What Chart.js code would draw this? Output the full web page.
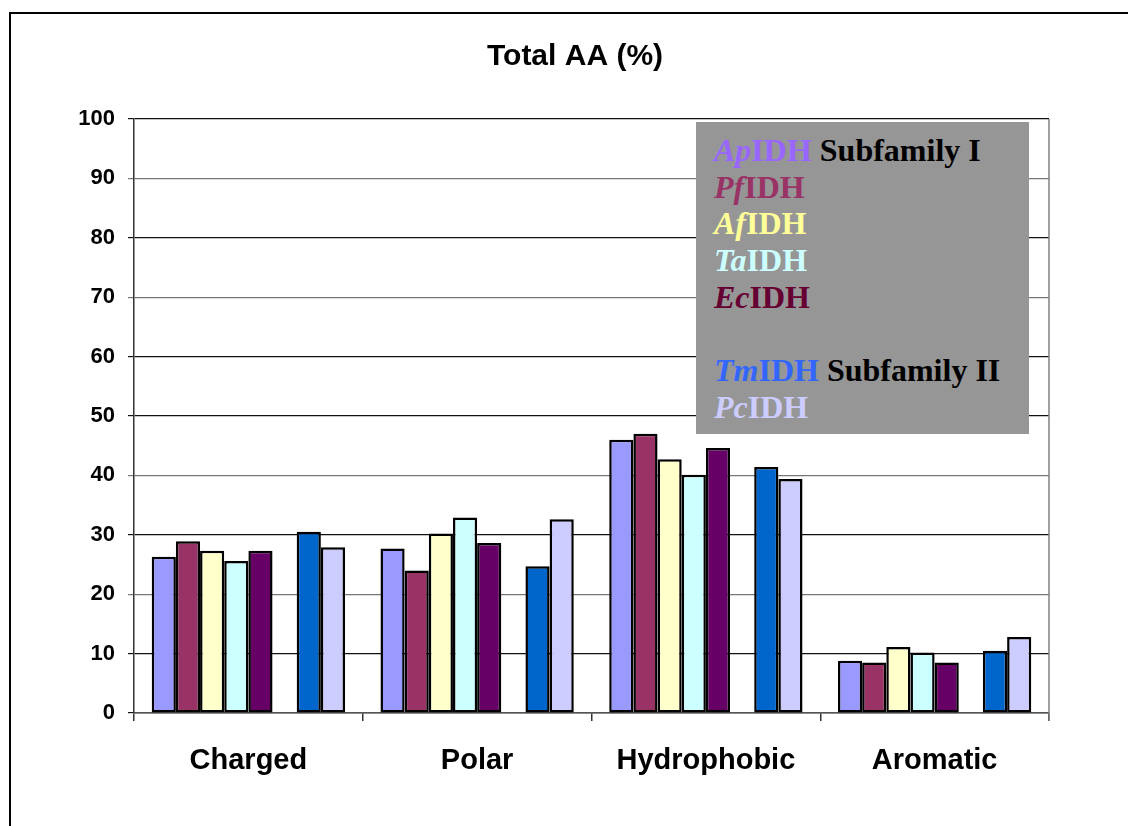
<!DOCTYPE html>
<html>
<head>
<meta charset="utf-8">
<script src="https://cdn.jsdelivr.net/npm/chart.js@4.4.1/dist/chart.umd.min.js"></script>
<style>
  html, body { margin: 0; padding: 0; background: #fff; }
  #wrap { position: relative; width: 1128px; height: 826px; overflow: hidden; }
  #c { position: absolute; left: 0; top: 0; }
  #legend {
    position: absolute; left: 696px; top: 122px; width: 333px; height: 312px;
    background: #969696; box-sizing: border-box; padding: 10px 0 0 18px;
    font-family: "Liberation Serif", "Times New Roman", serif; font-weight: bold;
    font-size: 32px; line-height: 36.7px; white-space: nowrap;
  }
  #legend .it { font-style: italic; }
  #legend .sub { color: #000; }
</style>
</head>
<body>
<div id="wrap">
  <canvas id="c" width="1128" height="826"></canvas>
  <div id="legend"></div>
</div>
<script>
// ---- data ----
const categories = ["Charged", "Polar", "Hydrophobic", "Aromatic"];
const ApIDH = [26.3, 27.7, 46.0, 8.8];
const PfIDH = [28.9, 24.0, 47.0, 8.5];
const AfIDH = [27.3, 30.2, 42.7, 11.1];
const TaIDH = [25.6, 32.9, 40.1, 10.2];
const EcIDH = [27.3, 28.6, 44.6, 8.5];
const TmIDH = [30.5, 24.7, 41.4, 10.5];
const PcIDH = [27.9, 32.6, 39.4, 12.8];
const yTicks = [0, 10, 20, 30, 40, 50, 60, 70, 80, 90, 100];
const titleText = "Total AA (%)";

// series list: [prefix (italic), label, values, bar colour, legend text colour, subfamily note]
const series = [
  ["Ap", "IDH", ApIDH, "#9999FF", "#9966FF", " Subfamily I"],
  ["Pf", "IDH", PfIDH, "#993366", "#993366", ""],
  ["Af", "IDH", AfIDH, "#FFFFCC", "#FFFF99", ""],
  ["Ta", "IDH", TaIDH, "#CCFFFF", "#CCFFFF", ""],
  ["Ec", "IDH", EcIDH, "#660066", "#660033", ""],
  null, // empty slot between subfamilies
  ["Tm", "IDH", TmIDH, "#0066CC", "#3366FF", " Subfamily II"],
  ["Pc", "IDH", PcIDH, "#CCCCFF", "#CCCCFF", ""]
];

const datasets = series.map(s => s ? {
  label: s[0] + s[1], data: s[2], backgroundColor: s[3],
  borderColor: "#000", borderWidth: 2.5, borderSkipped: false
} : { label: "", data: categories.map(() => null), backgroundColor: "transparent", borderWidth: 0 });

// legend (HTML text)
const lg = document.getElementById("legend");
series.forEach(s => {
  const line = document.createElement("div");
  if (!s) { line.innerHTML = "&nbsp;"; lg.appendChild(line); return; }
  const a = document.createElement("span"); a.className = "it"; a.style.color = s[4]; a.textContent = s[0];
  const b = document.createElement("span"); b.style.color = s[4]; b.textContent = s[1];
  line.appendChild(a); line.appendChild(b);
  if (s[5]) { const c = document.createElement("span"); c.className = "sub"; c.textContent = s[5]; line.appendChild(c); }
  lg.appendChild(line);
});

const frame = {
  id: "frame",
  afterLayout(chart) {
    // let the y tick labels use the space left of the (offset) layout padding
    chart.scales.y.left = 0;
  },
  beforeDraw(chart) {
    const ctx = chart.ctx;
    ctx.save();
    ctx.fillStyle = "#fff";
    ctx.fillRect(0, 0, chart.width, chart.height);
    ctx.strokeStyle = "#000"; ctx.lineWidth = 2;
    ctx.strokeRect(10, 13, 1300, 1000);
    ctx.restore();
  },
  afterDatasetsDraw(chart) {
    const a = chart.chartArea, ctx = chart.ctx;
    ctx.save();
    ctx.strokeStyle = "#808080"; ctx.lineWidth = 1.5;
    ctx.beginPath(); ctx.moveTo(a.right, a.top); ctx.lineTo(a.right, a.bottom + 8); ctx.stroke();
    ctx.restore();
  }
};

const greyLines = [90, 70, 40, 20];
new Chart(document.getElementById("c"), {
  type: "bar",
  data: { labels: categories, datasets },
  options: {
    responsive: false, animation: false,
    layout: { padding: { left: 101, right: 79, top: 0, bottom: 0 } },
    datasets: { bar: { categoryPercentage: 0.845, barPercentage: 1.0 } },
    plugins: {
      legend: { display: false }, tooltip: { enabled: false },
      title: { display: true, text: titleText, color: "#000",
        font: { family: "'Liberation Sans', Arial, sans-serif", size: 30, weight: "bold" },
        padding: { top: 39, bottom: 44 } }
    },
    scales: {
      x: {
        grid: { display: true, drawOnChartArea: false, drawTicks: true, tickLength: 8, offset: true, color: "#333", lineWidth: 1.5 },
        border: { display: true, color: "#555", width: 1.5 },
        ticks: { color: "#000", padding: 23, font: { family: "'Liberation Sans', Arial, sans-serif", size: 29, weight: "bold" } },
        afterFit(s) { s.height = 113; }
      },
      y: {
        min: 0, max: 100,
        afterBuildTicks(s) { s.ticks = yTicks.map(v => ({ value: v })); },
        grid: { color: c => greyLines.includes(c.tick && c.tick.value) ? "#777" : "#111", lineWidth: 1.2, tickLength: 6 },
        border: { display: true, color: "#333", width: 1.5 },
        ticks: { color: "#000", padding: 13, font: { family: "'Liberation Sans', Arial, sans-serif", size: 22, weight: "bold" } },
        afterFit(s) { s.width = 33; }
      }
    }
  },
  plugins: [frame]
});
</script>
</body>
</html>
